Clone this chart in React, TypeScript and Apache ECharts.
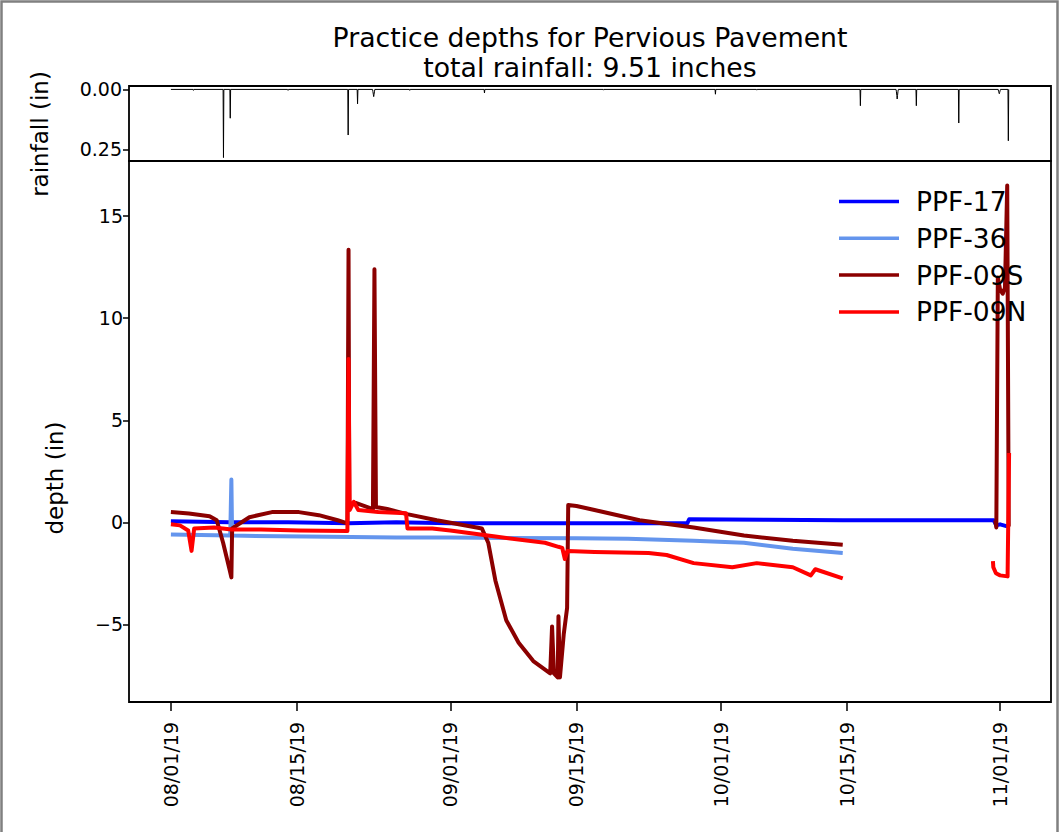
import React, { useEffect, useRef } from 'react';
import * as echarts from 'echarts';

const FONT = 'DejaVu Sans';

const titleLines = ['Practice depths for Pervious Pavement', 'total rainfall: 9.51 inches'];
const seriesNames = ['PPF-17', 'PPF-36', 'PPF-09S', 'PPF-09N'];
const seriesColors = ['#0000ff', '#6495ed', '#8b0000', '#ff0000'];

type Pt = [string, number | null];

// depth readings (in), time stamps as "YYYY-MM-DD HH:MM"; null = logger gap
const ppf17: Pt[] = [
  ['2019-08-01 00:00', 0.05], ['2019-08-07 12:00', 0.0], ['2019-08-14 00:00', 0.0],
  ['2019-08-20 17:00', -0.05], ['2019-08-26 00:00', 0.0], ['2019-09-01 00:00', -0.05],
  ['2019-09-10 00:00', -0.05], ['2019-09-20 00:00', -0.05], ['2019-09-27 07:00', -0.05],
  ['2019-09-27 12:00', 0.15], ['2019-10-06 00:00', 0.12], ['2019-10-14 13:00', 0.1],
  ['2019-10-31 07:00', 0.1], ['2019-10-31 14:00', -0.15], ['2019-11-01 00:00', -0.1],
  ['2019-11-01 19:00', -0.2],
];

const ppf36: Pt[] = [
  ['2019-08-01 00:00', -0.6], ['2019-08-07 14:00', -0.65], ['2019-08-07 17:00', 2.1],
  ['2019-08-07 19:00', -0.65], ['2019-08-16 00:00', -0.7], ['2019-08-26 00:00', -0.74],
  ['2019-09-01 00:00', -0.75], ['2019-09-15 00:00', -0.78], ['2019-09-20 17:00', -0.8],
  ['2019-09-28 00:00', -0.9], ['2019-10-03 14:00', -1.0], ['2019-10-09 00:00', -1.3],
  ['2019-10-14 13:00', -1.5],
];

const ppf09s: Pt[] = [
  ['2019-08-01 00:00', 0.5], ['2019-08-03 00:00', 0.43], ['2019-08-05 07:00', 0.3],
  ['2019-08-06 02:00', 0.1], ['2019-08-06 19:00', -1.0], ['2019-08-07 12:00', -2.3],
  ['2019-08-07 17:00', -2.7], ['2019-08-07 19:00', -0.3], ['2019-08-09 17:00', 0.25],
  ['2019-08-12 05:00', 0.5], ['2019-08-15 05:00', 0.5], ['2019-08-17 10:00', 0.35],
  ['2019-08-19 12:00', 0.1], ['2019-08-20 14:00', -0.05], ['2019-08-20 17:00', 13.35],
  ['2019-08-20 19:00', 0.9], ['2019-08-21 12:00', 0.95], ['2019-08-23 10:00', 0.65],
  ['2019-08-23 14:00', 12.4], ['2019-08-23 18:00', 0.75], ['2019-08-25 00:00', 0.65],
  ['2019-08-27 05:00', 0.4], ['2019-08-30 12:00', 0.1], ['2019-09-03 22:00', -0.25],
  ['2019-09-04 12:00', -0.3], ['2019-09-05 05:00', -1.0], ['2019-09-06 00:00', -2.85],
  ['2019-09-07 05:00', -4.8], ['2019-09-08 14:00', -5.9], ['2019-09-10 05:00', -6.8],
  ['2019-09-12 02:00', -7.4], ['2019-09-12 07:00', -5.1], ['2019-09-12 12:00', -7.4],
  ['2019-09-12 22:00', -7.6], ['2019-09-13 00:00', -4.6], ['2019-09-13 04:00', -7.6],
  ['2019-09-13 14:00', -5.5], ['2019-09-13 23:00', -4.2], ['2019-09-14 02:00', 0.85],
  ['2019-09-15 00:00', 0.8], ['2019-09-17 00:00', 0.6], ['2019-09-22 00:00', 0.1],
  ['2019-09-28 00:00', -0.25], ['2019-10-03 14:00', -0.65], ['2019-10-09 00:00', -0.9],
  ['2019-10-14 13:00', -1.1], ['2019-10-20 00:00', null],
  ['2019-10-31 11:00', 0.1], ['2019-10-31 14:00', -0.25], ['2019-10-31 18:00', 12.0],
  ['2019-11-01 00:00', 11.4], ['2019-11-01 07:00', 11.2], ['2019-11-01 13:00', 11.5],
  ['2019-11-01 19:00', 16.5], ['2019-11-01 23:00', -0.2],
];

const ppf09n: Pt[] = [
  ['2019-08-01 00:00', -0.1], ['2019-08-02 00:00', -0.15], ['2019-08-02 22:00', -0.4],
  ['2019-08-03 07:00', -1.4], ['2019-08-03 14:00', -0.3], ['2019-08-05 19:00', -0.25],
  ['2019-08-07 17:00', -0.35], ['2019-08-11 00:00', -0.35], ['2019-08-15 05:00', -0.4],
  ['2019-08-20 14:00', -0.43], ['2019-08-20 17:00', 8.0], ['2019-08-20 20:00', 0.6],
  ['2019-08-21 07:00', 1.0], ['2019-08-21 19:00', 0.6], ['2019-08-24 00:00', 0.5],
  ['2019-08-27 02:00', 0.45], ['2019-08-27 06:00', -0.3], ['2019-08-30 00:00', -0.3],
  ['2019-09-01 00:00', -0.4], ['2019-09-06 00:00', -0.7], ['2019-09-11 12:00', -1.0],
  ['2019-09-13 00:00', -1.2], ['2019-09-13 10:00', -1.25], ['2019-09-13 17:00', -1.8],
  ['2019-09-14 00:00', -1.4], ['2019-09-17 00:00', -1.45], ['2019-09-23 00:00', -1.5],
  ['2019-09-25 00:00', -1.6], ['2019-09-28 00:00', -2.0], ['2019-10-02 07:00', -2.2],
  ['2019-10-05 00:00', -2.0], ['2019-10-09 00:00', -2.2], ['2019-10-11 00:00', -2.6],
  ['2019-10-11 12:00', -2.3], ['2019-10-14 13:00', -2.75], ['2019-10-20 00:00', null],
  ['2019-10-31 05:00', -1.9], ['2019-10-31 06:00', -2.2], ['2019-10-31 13:00', -2.5],
  ['2019-11-01 00:00', -2.6], ['2019-11-01 20:00', -2.65], ['2019-11-02 00:00', 3.4],
];

// hourly rainfall (in); hours not listed are dry
const rainReadings: [string, number][] = [
  ['2019-08-03 12:00', 0.004], ['2019-08-06 20:00', 0.284], ['2019-08-07 14:00', 0.12],
  ['2019-08-14 00:00', 0.004], ['2019-08-20 16:00', 0.19], ['2019-08-21 17:00', 0.06],
  ['2019-08-23 10:00', 0.01], ['2019-08-23 11:00', 0.02], ['2019-08-23 12:00', 0.03],
  ['2019-08-23 13:00', 0.02], ['2019-08-23 14:00', 0.01],
  ['2019-08-27 12:00', 0.004], ['2019-09-04 19:00', 0.015], ['2019-09-18 00:00', 0.003],
  ['2019-09-30 10:00', 0.02], ['2019-10-05 00:00', 0.003], ['2019-10-16 12:00', 0.068],
  ['2019-10-20 12:00', 0.01], ['2019-10-20 13:00', 0.025], ['2019-10-20 14:00', 0.04],
  ['2019-10-20 15:00', 0.025], ['2019-10-20 16:00', 0.01],
  ['2019-10-22 17:00', 0.068], ['2019-10-27 10:00', 0.14],
  ['2019-10-31 20:00', 0.008], ['2019-10-31 21:00', 0.014], ['2019-10-31 22:00', 0.018],
  ['2019-10-31 23:00', 0.012], ['2019-11-01 00:00', 0.006],
  ['2019-11-01 22:00', 0.214],
];
const rainStart = '2019-08-01 00:00';
const rainEnd = '2019-11-02 00:00';

const xTickDates = ['2019-08-01', '2019-08-15', '2019-09-01', '2019-09-15', '2019-10-01', '2019-10-15', '2019-11-01'];
const depthTicks = [-5, 0, 5, 10, 15];
const rainTicks = [0, 0.25];

const HOUR = 3600 * 1000;
const ms = (s: string) => {
  const [d, hm = '00:00'] = s.split(' ');
  return Date.parse(`${d}T${hm}:00Z`);
};
const toData = (pts: Pt[]) => pts.map(([s, v]) => [ms(s), v]);

// pad an axis range by 5% on each side
const padded = (lo: number, hi: number) => {
  const m = (hi - lo) * 0.05;
  return [lo - m, hi + m];
};

const pad2 = (n: number) => String(n).padStart(2, '0');
const fmtDate = (v: number) => {
  const d = new Date(v);
  return `${pad2(d.getUTCMonth() + 1)}/${pad2(d.getUTCDate())}/${pad2(d.getUTCFullYear() % 100)}`;
};
const fmtDepth = (v: number) => (v < 0 ? `\u2212${Math.abs(v)}` : String(v));

function buildOption() {
  const depthSets = [ppf17, ppf36, ppf09s, ppf09n];
  const allPts = depthSets.flat();
  const times = allPts.map((p) => ms(p[0]));
  const vals = allPts.map((p) => p[1]).filter((v): v is number => v !== null);
  const [xMin, xMax] = padded(Math.min(...times), Math.max(...times));
  const [yMin, yMax] = padded(Math.min(...vals), Math.max(...vals));
  const rainMax = Math.max(...rainReadings.map((r) => r[1]));
  const [rMin, rMax] = padded(0, rainMax);

  // rainfall trace: zero baseline with each wet hour as a spike
  const rainTimes = rainReadings.map((r) => ms(r[0]));
  const rainData: number[][] = [[ms(rainStart), 0]];
  rainReadings.forEach(([, v], i) => {
    const t = rainTimes[i];
    if (i === 0 || rainTimes[i - 1] !== t - HOUR) rainData.push([t - HOUR, 0]);
    rainData.push([t, v]);
    if (i === rainTimes.length - 1 || rainTimes[i + 1] !== t + HOUR) rainData.push([t + HOUR, 0]);
  });
  rainData.push([ms(rainEnd), 0]);

  const tickStyle = { fontFamily: FONT, fontSize: 19, color: '#000' };
  const tickLine = { lineStyle: { color: '#000', width: 1.5 } };
  const xTicks = xTickDates.map((d) => ms(d));

  return {
    animation: false,
    backgroundColor: '#fff',
    title: {
      text: titleLines.join('\n'),
      left: 585,
      top: 17,
      textAlign: 'center',
      textStyle: { fontFamily: FONT, fontSize: 26.7, fontWeight: 'normal', color: '#000', lineHeight: 30 },
    },
    legend: {
      data: seriesNames,
      orient: 'vertical',
      left: 834,
      top: 183,
      icon: 'rect',
      itemWidth: 60,
      itemHeight: 3.5,
      itemGap: 9.8,
      textStyle: { fontFamily: FONT, fontSize: 26.5, color: '#000', lineHeight: 26, padding: [0, 0, 0, 12] },
    },
    grid: [
      { left: 129, right: 9, top: 86, height: 75, show: true, borderColor: '#000', borderWidth: 1.8 },
      { left: 129, right: 9, top: 161, height: 541, show: true, borderColor: '#000', borderWidth: 1.8 },
    ],
    xAxis: [
      {
        gridIndex: 0, type: 'value', min: xMin, max: xMax,
        axisLine: { show: false }, axisTick: { show: false }, axisLabel: { show: false }, splitLine: { show: false },
      },
      {
        gridIndex: 1, type: 'value', min: xMin, max: xMax,
        axisLine: { show: false, onZero: false },
        axisTick: { show: true, length: 9, customValues: xTicks, ...tickLine },
        axisLabel: { ...tickStyle, rotate: 90, margin: 20, customValues: xTicks, formatter: fmtDate },
        splitLine: { show: false },
      },
    ],
    yAxis: [
      {
        gridIndex: 0, type: 'value', inverse: true, min: rMin, max: rMax,
        axisLine: { show: false },
        axisTick: { show: true, length: 6, customValues: rainTicks, ...tickLine },
        axisLabel: { ...tickStyle, margin: 7, customValues: rainTicks, formatter: (v: number) => v.toFixed(2) },
        splitLine: { show: false },
      },
      {
        gridIndex: 1, type: 'value', min: yMin, max: yMax,
        axisLine: { show: false, onZero: false },
        axisTick: { show: true, length: 6, customValues: depthTicks, ...tickLine },
        axisLabel: { ...tickStyle, margin: 6, customValues: depthTicks, formatter: fmtDepth },
        splitLine: { show: false },
      },
    ],
    series: [
      {
        name: 'rainfall', type: 'line', xAxisIndex: 0, yAxisIndex: 0, symbol: 'none',
        data: rainData, lineStyle: { color: '#000', width: 1 }, silent: true,
      },
      ...depthSets.map((pts, i) => ({
        name: seriesNames[i], type: 'line', xAxisIndex: 1, yAxisIndex: 1, symbol: 'none',
        connectNulls: false, data: toData(pts), color: seriesColors[i],
        lineStyle: { color: seriesColors[i], width: 4, join: 'round' },
        itemStyle: { color: seriesColors[i] },
      })),
    ],
    graphic: [
      {
        type: 'rect', silent: true,
        shape: { x: 1.5, y: 1.5, width: 1056, height: 860 },
        style: { fill: 'none', stroke: '#808080', lineWidth: 2.5 },
      },
      {
        type: 'text', x: 55, y: 478, rotation: Math.PI / 2,
        style: { text: 'depth (in)', fontFamily: FONT, fontSize: 23, fill: '#000', align: 'center', verticalAlign: 'middle' },
      },
      {
        type: 'text', x: 40, y: 134, rotation: Math.PI / 2,
        style: { text: 'rainfall (in)', fontFamily: FONT, fontSize: 23, fill: '#000', align: 'center', verticalAlign: 'middle' },
      },
    ],
  };
}

export default function App() {
  const ref = useRef<HTMLDivElement>(null);
  useEffect(() => {
    if (!ref.current) return;
    const chart = echarts.init(ref.current, undefined, { renderer: 'svg' });
    chart.setOption(buildOption() as any);
    return () => chart.dispose();
  }, []);
  return <div ref={ref} style={{ position: 'fixed', left: 0, top: 0, width: 1060, height: 832 }} />;
}
